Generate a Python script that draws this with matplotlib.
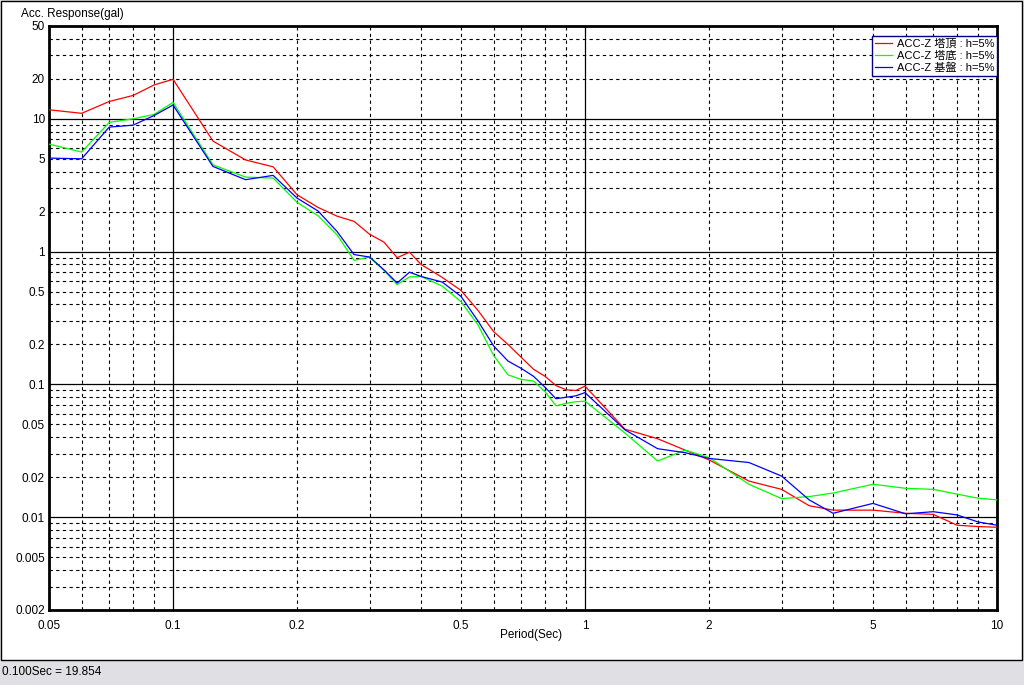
import matplotlib
matplotlib.use("Agg")
import matplotlib.pyplot as plt
from matplotlib.patches import Rectangle
from matplotlib.ticker import FixedLocator, FixedFormatter, NullFormatter

plt.rcParams['font.family'] = ['Liberation Sans', 'Noto Sans CJK JP', 'DejaVu Sans']

periods = [0.05, 0.06, 0.07, 0.08, 0.09, 0.1, 0.125, 0.15, 0.175, 0.2,
           0.225, 0.25, 0.275, 0.3, 0.325, 0.35, 0.375, 0.4, 0.45, 0.5,
           0.55, 0.6, 0.65, 0.7, 0.75, 0.8, 0.85, 0.9, 0.95, 1.0,
           1.25, 1.5, 1.75, 2.0, 2.5, 3.0, 3.5, 4.0, 5.0, 6.0,
           7.0, 8.0, 9.0, 10.0]

acc_top = [11.7, 11.0, 13.5, 15.0, 18.0, 19.854, 6.8, 4.9, 4.35, 2.68,
           2.15, 1.85, 1.69, 1.35, 1.18, 0.90, 0.99, 0.80, 0.64, 0.51,
           0.36, 0.25, 0.20, 0.16, 0.13, 0.115, 0.098, 0.091, 0.090, 0.097,
           0.046, 0.039, 0.032, 0.027, 0.0187, 0.0162, 0.0122, 0.0113, 0.0113, 0.0107,
           0.0105, 0.0087, 0.0085, 0.0084]

acc_base = [6.45, 5.62, 9.4, 10.0, 10.8, 13.3, 4.5, 3.64, 3.58, 2.35,
            1.86, 1.34, 0.86, 0.91, 0.72, 0.565, 0.645, 0.65, 0.55, 0.42,
            0.28, 0.165, 0.118, 0.109, 0.106, 0.088, 0.069, 0.072, 0.074, 0.0748,
            0.043, 0.0265, 0.032, 0.0281, 0.0177, 0.0138, 0.0143, 0.0152, 0.0177, 0.0165,
            0.0162, 0.0149, 0.0139, 0.0135]

acc_ground = [5.06, 5.0, 8.66, 8.96, 10.6, 12.7, 4.38, 3.48, 3.75, 2.53,
              2.02, 1.42, 0.95, 0.91, 0.73, 0.58, 0.70, 0.65, 0.59, 0.46,
              0.30, 0.195, 0.15, 0.132, 0.115, 0.095, 0.078, 0.080, 0.082, 0.0867,
              0.0455, 0.0328, 0.0306, 0.0277, 0.0258, 0.0204, 0.0135, 0.0107, 0.0127, 0.0106,
              0.0110, 0.0104, 0.0092, 0.0087]

series_labels = ['ACC-Z 塔頂 : h=5%', 'ACC-Z 塔底 : h=5%', 'ACC-Z 基盤 : h=5%']
series_colors = ['#ff0000', '#00ff00', '#0000ff']

x_ticks = [0.05, 0.1, 0.2, 0.5, 1, 2, 5, 10]
x_ticklabels = ['0.05', '0.1', '0.2', '0.5', '1', '2', '5', '10']
y_ticks = [0.002, 0.005, 0.01, 0.02, 0.05, 0.1, 0.2, 0.5, 1, 2, 5, 10, 20, 50]
y_ticklabels = ['0.002', '0.005', '0.01', '0.02', '0.05', '0.1', '0.2', '0.5',
                '1', '2', '5', '10', '20', '50']

W, H = 1024, 685
fig = plt.figure(figsize=(W / 100, H / 100), dpi=100)
fig.patch.set_facecolor('#e0dfe3')

# white window panel
fig.patches.append(Rectangle((0.5 / W, 25 / H), 1021 / W, (H - 25.5) / H,
                             transform=fig.transFigure, facecolor='white',
                             edgecolor='black', linewidth=1.0, zorder=-5))

ax = fig.add_axes([49 / W, 1 - 610 / H, 948 / W, 584 / H])
ax.set_zorder(1)
ax.set_xscale('log')
ax.set_yscale('log')
ax.set_xlim(0.05, 10)
ax.set_ylim(0.002, 50)

for vals, lab, col in zip([acc_top, acc_base, acc_ground], series_labels, series_colors):
    ax.plot(periods, vals, color=col, lw=0.9, label=lab, zorder=3)

ax.xaxis.set_major_locator(FixedLocator(x_ticks))
ax.xaxis.set_major_formatter(FixedFormatter(x_ticklabels))
ax.yaxis.set_major_locator(FixedLocator(y_ticks))
ax.yaxis.set_major_formatter(FixedFormatter(y_ticklabels))
ax.xaxis.set_minor_locator(FixedLocator([]))
ax.yaxis.set_minor_locator(FixedLocator([]))
ax.xaxis.set_minor_formatter(NullFormatter())
ax.yaxis.set_minor_formatter(NullFormatter())
ax.tick_params(which='both', length=0, labelsize=8.5, colors='black')
ax.tick_params(axis='x', pad=7)
ax.tick_params(axis='y', pad=3)

# grid: decades solid, 2..9 dashed
for d in [0.1, 1]:
    ax.axvline(d, color='black', lw=0.9, zorder=1)
for d in [0.01, 0.1, 1, 10]:
    ax.axhline(d, color='black', lw=0.9, zorder=1)
for dec in [0.01, 0.1, 1]:
    for k in range(2, 10):
        v = dec * k
        if 0.05 < v < 10:
            ax.axvline(v, color='black', lw=0.8, ls=(0, (3, 3)), zorder=1)
for dec in [0.001, 0.01, 0.1, 1, 10]:
    for k in range(2, 10):
        v = dec * k
        if 0.002 < v < 50:
            ax.axhline(v, color='black', lw=0.8, ls=(0, (3, 3)), zorder=1)

for s in ax.spines.values():
    s.set_linewidth(2.0)
    s.set_color('black')

leg = ax.legend(loc='upper right', bbox_to_anchor=(1.0, 1 - 10 / 584),
                borderaxespad=0, fontsize=8, frameon=True, fancybox=False,
                edgecolor='#000080', framealpha=1, handlelength=1.6,
                handletextpad=0.4, labelspacing=0.15, borderpad=0.25)
leg.get_frame().set_linewidth(1.0)
leg.set_zorder(5)

fig.text(21 / W, 1 - 14 / H, 'Acc. Response(gal)', fontsize=8.5, ha='left', va='center')
fig.text(531 / W, 1 - 635 / H, 'Period(Sec)', fontsize=8.5, ha='center', va='center')
fig.text(2 / W, 1 - 672 / H, '0.100Sec = 19.854', fontsize=8.5, ha='left', va='center')

fig.savefig('out.png', dpi=100, facecolor=fig.get_facecolor())
